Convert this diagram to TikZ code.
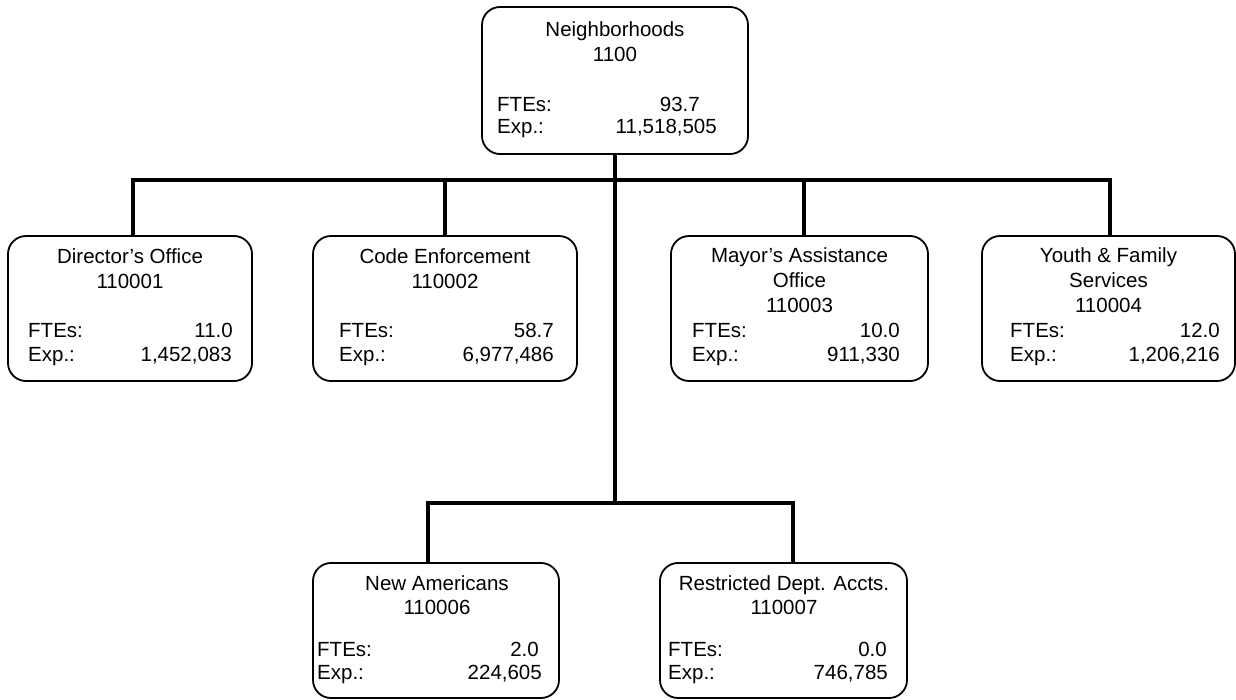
\documentclass[tikz,border=0pt]{standalone}
\usepackage{fontspec}
\setmainfont{Liberation Sans}
\begin{document}
\begin{tikzpicture}[x=1pt,y=-1pt,
  orgbox/.style={draw=black, line width=1.8pt, rounded corners=18pt, inner sep=0pt},
  conn/.style={draw=black, line width=4pt},
  lbl/.style={inner sep=0pt, font=\fontsize{20.5}{24}\selectfont}]
\useasboundingbox (0,0) rectangle (1236,699);

% boxes
\node[orgbox, minimum width=266pt, minimum height=147pt] (top) at (615,80.5) {};
\node[orgbox, minimum width=244pt, minimum height=145pt] (dir) at (130,308.5) {};
\node[orgbox, minimum width=264pt, minimum height=145pt] (code) at (445,308.5) {};
\node[orgbox, minimum width=257pt, minimum height=145pt] (mayor) at (799.5,308.5) {};
\node[orgbox, minimum width=253pt, minimum height=145pt] (youth) at (1108.5,308.5) {};
\node[orgbox, minimum width=246pt, minimum height=135pt] (na) at (436,630.5) {};
\node[orgbox, minimum width=247pt, minimum height=135pt] (rda) at (783.5,630.5) {};

% connectors
\coordinate (b1) at (615,180);
\coordinate (b2) at (615,503);
\draw[conn] (top.south) -- (b2);
\draw[conn] (b1) -| ([xshift=3pt]dir.north);
\draw[conn] (b1) -| (code.north);
\draw[conn] (b1) -| ([xshift=4pt]mayor.north);
\draw[conn] (b1) -| ([xshift=1.5pt]youth.north);
\draw[conn] (b2) -| ([xshift=-8pt]na.north);
\draw[conn] (b2) -| ([xshift=9.5pt]rda.north);

% top box text
\node[lbl, anchor=base] (t1) at (615,36) {Neighborhoods};
\node[lbl, anchor=base] (t2) at (615,61) {1100};
\node[lbl, anchor=base west] (t3) at (497,111) {FTEs:};
\node[lbl, anchor=base east] (t4) at (700,111) {93.7};
\node[lbl, anchor=base west] (t5) at (497,133) {Exp.:};
\node[lbl, anchor=base east] (t6) at (717,133) {11,518,505};

% director
\node[lbl, anchor=base] (d1) at (130,263) {Director’s Office};
\node[lbl, anchor=base] (d2) at (130,288) {110001};
\node[lbl, anchor=base west] (d3) at (28,337) {FTEs:};
\node[lbl, anchor=base east] (d4) at (233,337) {11.0};
\node[lbl, anchor=base west] (d5) at (28,361) {Exp.:};
\node[lbl, anchor=base east] (d6) at (232,361) {1,452,083};

% code enforcement
\node[lbl, anchor=base] (c1) at (445,263) {Code Enforcement};
\node[lbl, anchor=base] (c2) at (445,288) {110002};
\node[lbl, anchor=base west] (c3) at (339,337) {FTEs:};
\node[lbl, anchor=base east] (c4) at (554,337) {58.7};
\node[lbl, anchor=base west] (c5) at (339,361) {Exp.:};
\node[lbl, anchor=base east] (c6) at (554,361) {6,977,486};

% mayor
\node[lbl, anchor=base] (m1) at (799.5,262) {Mayor’s Assistance};
\node[lbl, anchor=base] (m2) at (799.5,287) {Office};
\node[lbl, anchor=base] (m3) at (799.5,312) {110003};
\node[lbl, anchor=base west] (m4) at (692,337) {FTEs:};
\node[lbl, anchor=base east] (m5) at (900,337) {10.0};
\node[lbl, anchor=base west] (m6) at (692,361) {Exp.:};
\node[lbl, anchor=base east] (m7) at (900,361) {911,330};

% youth
\node[lbl, anchor=base] (y1) at (1108.5,262) {Youth \& Family};
\node[lbl, anchor=base] (y2) at (1108.5,287) {Services};
\node[lbl, anchor=base] (y3) at (1108.5,312) {110004};
\node[lbl, anchor=base west] (y4) at (1010,337) {FTEs:};
\node[lbl, anchor=base east] (y5) at (1220,337) {12.0};
\node[lbl, anchor=base west] (y6) at (1010,361) {Exp.:};
\node[lbl, anchor=base east] (y7) at (1220,361) {1,206,216};

% new americans
\node[lbl, anchor=base] (n1) at (437,590) {New Americans};
\node[lbl, anchor=base] (n2) at (437,614) {110006};
\node[lbl, anchor=base west] (n3) at (317,656) {FTEs:};
\node[lbl, anchor=base east] (n4) at (539,656) {2.0};
\node[lbl, anchor=base west] (n5) at (317,679) {Exp.:};
\node[lbl, anchor=base east] (n6) at (542,679) {224,605};

% restricted
\node[lbl, anchor=base] (r1) at (784,590) {Restricted Dept. Accts.};
\node[lbl, anchor=base] (r2) at (784,614) {110007};
\node[lbl, anchor=base west] (r3) at (668,656) {FTEs:};
\node[lbl, anchor=base east] (r4) at (887,656) {0.0};
\node[lbl, anchor=base west] (r5) at (668,679) {Exp.:};
\node[lbl, anchor=base east] (r6) at (888,679) {746,785};
\end{tikzpicture}
\end{document}
